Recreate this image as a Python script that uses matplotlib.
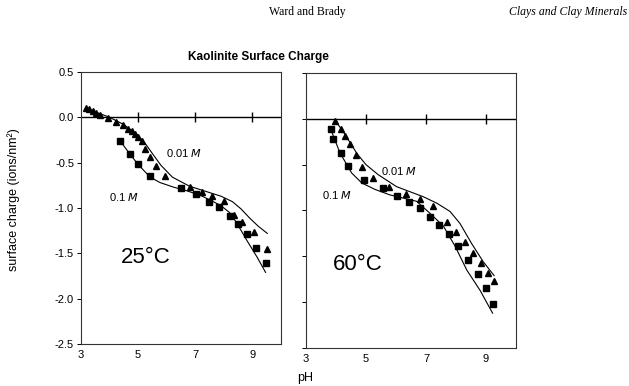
import matplotlib
matplotlib.use('Agg')
import matplotlib.pyplot as plt

plt.rcParams['font.family'] = ['Liberation Sans', 'DejaVu Sans']

# ── data ────────────────────────────────────────────────────────────────────
# 25 C panel
ph_tri_25 = [3.18, 3.29, 3.41, 3.53, 3.67, 3.96, 4.23, 4.46, 4.66, 4.78, 4.89, 5.01,
             5.13, 5.25, 5.42, 5.62, 5.95, 6.82, 7.23, 7.58, 7.99, 8.34, 8.64, 9.05, 9.52]
q_tri_25 = [0.107, 0.088, 0.07, 0.05, 0.03, -0.01, -0.05, -0.09, -0.13, -0.15, -0.18, -0.22,
            -0.26, -0.35, -0.44, -0.54, -0.65, -0.77, -0.82, -0.87, -0.92, -1.08, -1.15, -1.26, -1.45]
ph_sq_25 = [4.37, 4.70, 5.01, 5.42, 6.50, 7.02, 7.47, 7.82, 8.21, 8.49, 8.81, 9.14, 9.49]
q_sq_25 = [-0.26, -0.40, -0.52, -0.65, -0.78, -0.85, -0.93, -0.99, -1.09, -1.18, -1.29, -1.44, -1.61]
ph_fit01_25 = [3.18, 3.5, 4.0, 4.5, 5.0, 5.25, 5.5, 5.8, 6.2, 6.8, 7.4, 7.9, 8.3, 8.6, 8.9, 9.2, 9.52]
q_fit01_25 = [0.10, 0.06, 0.0, -0.08, -0.20, -0.29, -0.40, -0.53, -0.66, -0.76, -0.82, -0.87,
              -0.93, -1.01, -1.11, -1.20, -1.28]
ph_fit1_25 = [4.37, 4.7, 5.0, 5.42, 5.77, 6.24, 6.7, 7.18, 7.88, 8.2, 8.46, 8.81, 9.16, 9.46]
q_fit1_25 = [-0.26, -0.40, -0.52, -0.66, -0.72, -0.77, -0.81, -0.86, -0.97, -1.05, -1.17, -1.36, -1.54, -1.71]

# 60 C panel
ph_tri_60 = [3.98, 4.16, 4.30, 4.47, 4.67, 4.86, 5.22, 5.76, 6.33, 6.80, 7.24, 7.69, 7.99,
             8.30, 8.58, 8.82, 9.08, 9.27]
q_tri_60 = [-0.02, -0.11, -0.19, -0.28, -0.40, -0.53, -0.65, -0.74, -0.82, -0.88, -0.95, -1.12,
            -1.23, -1.34, -1.46, -1.57, -1.68, -1.77]
ph_sq_60 = [3.82, 3.91, 4.16, 4.39, 4.93, 5.56, 6.02, 6.43, 6.80, 7.13, 7.43, 7.77, 8.08,
            8.41, 8.72, 9.00, 9.22]
q_sq_60 = [-0.11, -0.22, -0.37, -0.51, -0.67, -0.76, -0.84, -0.91, -0.97, -1.07, -1.16, -1.26,
           -1.39, -1.54, -1.69, -1.84, -2.02]
ph_fit01_60 = [3.98, 4.3, 4.7, 5.0, 5.41, 6.02, 6.91, 7.36, 7.8, 8.13, 8.52, 8.91, 9.27]
q_fit01_60 = [-0.02, -0.17, -0.38, -0.50, -0.61, -0.74, -0.85, -0.92, -1.01, -1.14, -1.36, -1.56, -1.71]
ph_fit1_60 = [3.82, 4.13, 4.52, 4.86, 5.3, 5.8, 6.69, 7.13, 7.58, 7.97, 8.36, 8.8, 9.22]
q_fit1_60 = [-0.11, -0.37, -0.59, -0.70, -0.77, -0.83, -0.90, -1.03, -1.17, -1.39, -1.65, -1.87, -2.12]

x_ticks = [3, 5, 7, 9]
zero_ticks = [5, 7, 9]
y_ticks = [0.5, 0.0, -0.5, -1.0, -1.5, -2.0, -2.5]

panels = [
    dict(rect=[81 / 629, 1 - 344 / 386, 200 / 629, 272 / 386], temp='25°C', temp_xy=(4.4, -1.55),
         lab01=(5.98, -0.39), lab1=(3.98, -0.88),
         tri=(ph_tri_25, q_tri_25), sq=(ph_sq_25, q_sq_25),
         fit01=(ph_fit01_25, q_fit01_25), fit1=(ph_fit1_25, q_fit1_25), ylabels=True),
    dict(rect=[306 / 629, 1 - 348 / 386, 210 / 629, 275 / 386], temp='60°C', temp_xy=(3.9, -1.59),
         lab01=(5.5, -0.57), lab1=(3.53, -0.83),
         tri=(ph_tri_60, q_tri_60), sq=(ph_sq_60, q_sq_60),
         fit01=(ph_fit01_60, q_fit01_60), fit1=(ph_fit1_60, q_fit1_60), ylabels=False),
]

fig = plt.figure(figsize=(6.29, 3.86), dpi=100)
fig.patch.set_facecolor('white')

for p in panels:
    ax = fig.add_axes(p['rect'])
    ax.plot(*p['fit01'], color='black', linewidth=0.8)
    ax.plot(*p['fit1'], color='black', linewidth=0.8)
    ax.plot(*p['tri'], linestyle='none', marker='^', markersize=4.4, color='black')
    ax.plot(*p['sq'], linestyle='none', marker='s', markersize=5, color='black')

    # zero line with small crossing ticks
    ax.axhline(0, color='black', linewidth=1.0)
    ax.plot(zero_ticks, [0] * len(zero_ticks), linestyle='none', marker='|',
            markersize=7, markeredgewidth=1.0, color='black')

    ax.text(*p['temp_xy'], p['temp'], fontsize=16, va='center', ha='left')
    ax.text(*p['lab01'], '0.01 $\\it{M}$', fontsize=8, va='center', ha='left')
    ax.text(*p['lab1'], '0.1 $\\it{M}$', fontsize=8, va='center', ha='left')

    ax.set_xlim(3, 10)
    ax.set_ylim(-2.5, 0.5)
    ax.set_xticks(x_ticks)
    ax.set_yticks(y_ticks)
    ax.tick_params(axis='x', length=0, pad=4, labelsize=8)
    ax.tick_params(axis='y', direction='out', length=3, width=0.7, labelsize=8, pad=2)
    if p['ylabels']:
        ax.set_yticklabels([f'{v:.1f}' for v in y_ticks])
    else:
        ax.set_yticklabels([])
    for spine in ax.spines.values():
        spine.set_linewidth(0.8)
        spine.set_edgecolor('#333333')

fig.text(14 / 629, 1 - 200 / 386, 'surface charge (ions/nm²)', rotation=90,
         fontsize=9, ha='center', va='center')
fig.text(305 / 629, 1 - 378 / 386, 'pH', fontsize=9, ha='center', va='center')
fig.text(258 / 629, 1 - 57 / 386, 'Kaolinite Surface Charge', fontsize=8.5,
         fontweight='bold', ha='center', va='center')
fig.text(307 / 629, 1 - 12 / 386, 'Ward and Brady', fontsize=8.5,
         family='Liberation Serif', ha='center', va='center')
fig.text(627 / 629, 1 - 12 / 386, 'Clays and Clay Minerals', fontsize=8.5,
         family='Liberation Serif', style='italic', ha='right', va='center')

plt.savefig('out.png', dpi=100, facecolor='white')
plt.close()
